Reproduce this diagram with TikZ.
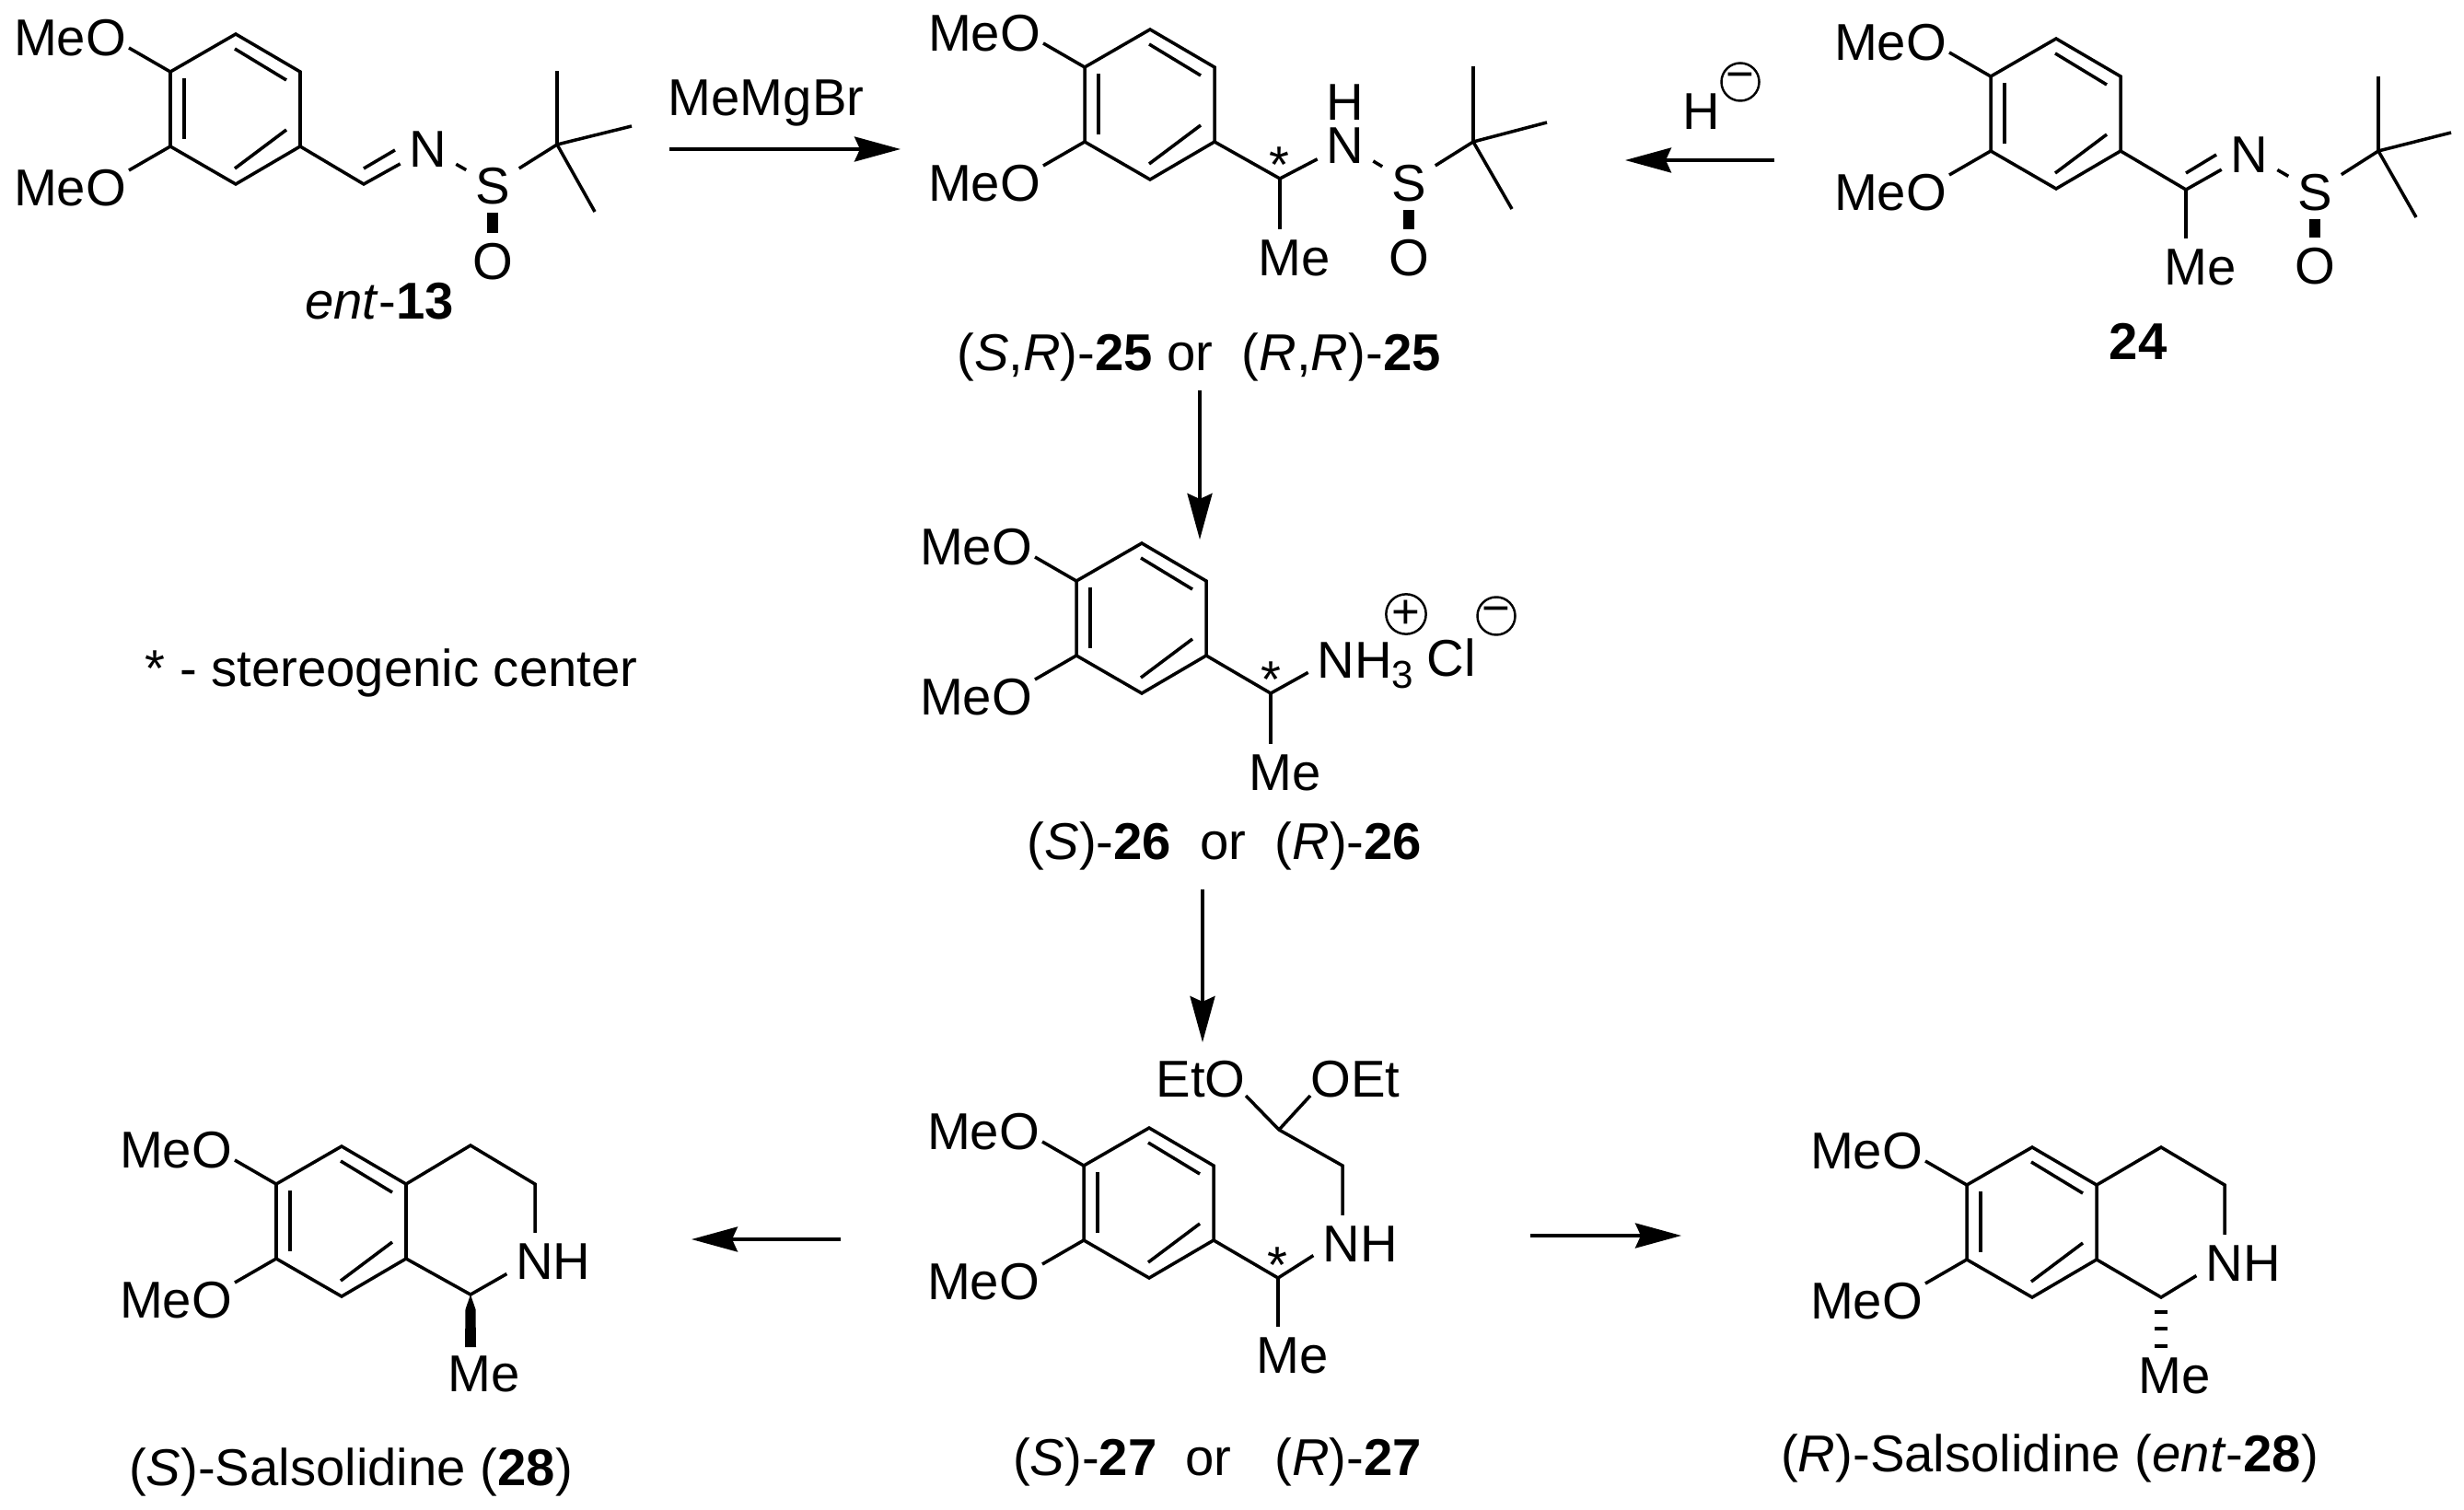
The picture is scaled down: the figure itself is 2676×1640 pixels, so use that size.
\documentclass[tikz,border=0pt]{standalone}
\usepackage{fontspec}
\setmainfont{Liberation Sans}
\usetikzlibrary{arrows.meta}
\tikzset{
  bond/.style={line width=1pt},
  rxnarrow/.style={line width=1pt, -{Stealth[length=5mm, width=2.7mm, inset=0.6mm]}},
  atom/.style={font=\fontsize{16}{19}\selectfont, inner sep=0pt, outer sep=0.1cm, text height=0.4cm, text depth=0pt},
  lbl/.style={font=\fontsize{16}{19}\selectfont, inner sep=0pt, anchor=base},
  chargecirc/.style={draw, circle, line width=0.7pt, minimum size=0.41cm, inner sep=0pt, font=\fontsize{15}{18}\selectfont},
  dimeoring/.pic={
    \coordinate (-ul) at (0,0);
    \coordinate (-top) at (71,-41);
    \coordinate (-ur) at (141,0);
    \coordinate (-lr) at (141,81);
    \coordinate (-bot) at (71,122);
    \coordinate (-ll) at (0,81);
    \coordinate (-oa) at (-45,-26);
    \coordinate (-ob) at (-45,107);
    \node[atom] (-mea) at (-109,-38) {MeO};
    \node[atom] (-meb) at (-109,125) {MeO};
    \draw[bond] (-ul) -- (-top) -- (-ur) -- (-lr) -- (-bot) -- (-ll) -- cycle;
    \draw[bond] (15,7) -- (15,73);
    \draw[bond] (70,-25) -- (126,9);
    \draw[bond] (70,105) -- (126,63);
    \draw[bond] (-ul) -- (-oa);
    \draw[bond] (-ll) -- (-ob);
  }
}
\begin{document}
\begin{tikzpicture}[x=0.01cm, y=-0.01cm]
  \useasboundingbox (0,0) rectangle (2676,1640);

  \pic (ringa) at (185,78) {dimeoring};
  \coordinate (cha) at (395,200);
  \coordinate (ima) at (395,183);
  \coordinate (imb) at (429,163);
  \coordinate (tba) at (605,157);
  \coordinate (tbaa) at (605,77);
  \coordinate (tbab) at (686,137);
  \coordinate (tbac) at (646,230);
  \node[atom] (na) at (465,161) {N};
  \node[atom] (sa) at (535,201) {S};
  \node[atom] (oa) at (535,283) {O};
  \draw[bond] (ringa-lr) -- (cha) -- (na);
  \draw[bond] (ima) -- (imb);
  \draw[bond] (na) -- (sa);
  \draw[bond] (sa) -- (tba);
  \draw[bond] (tba) -- (tbaa);
  \draw[bond] (tba) -- (tbab);
  \draw[bond] (tba) -- (tbac);
  \draw[line width=0.12cm] (sa) -- (oa);
  \node[lbl] (lblent) at (412,347) {\textit{ent}-\textbf{13}};

  \pic (ringb) at (1178,73) {dimeoring};
  \coordinate (chb) at (1390,194);
  \coordinate (tbb) at (1600,154);
  \coordinate (tbba) at (1600,72);
  \coordinate (tbbb) at (1680,133);
  \coordinate (tbbc) at (1642,227);
  \node[atom] (nb) at (1461,157) {N};
  \node[atom] (hb) at (1461,110) {H};
  \node[atom] (sb) at (1530,198) {S};
  \node[atom] (ob) at (1530,279) {O};
  \node[atom] (meb) at (1406,279) {Me};
  \node[lbl] (starb) at (1389,199) {*};
  \draw[bond] (ringb-lr) -- (chb) -- (nb);
  \draw[bond] (chb) -- (chb |- meb.north);
  \draw[bond] (nb) -- (sb);
  \draw[bond] (sb) -- (tbb);
  \draw[bond] (tbb) -- (tbba);
  \draw[bond] (tbb) -- (tbbb);
  \draw[bond] (tbb) -- (tbbc);
  \draw[line width=0.12cm] (sb) -- (ob);
  \node[lbl] (lblb) at (1302,403) {(\textit{S},\textit{R})-\textbf{25} or~~(\textit{R},\textit{R})-\textbf{25}};

  \pic (ringc) at (2162,83) {dimeoring};
  \coordinate (chc) at (2374,206);
  \coordinate (imc) at (2374,188);
  \coordinate (imd) at (2407,168);
  \coordinate (tbc) at (2583,164);
  \coordinate (tbca) at (2583,83);
  \coordinate (tbcb) at (2662,144);
  \coordinate (tbcc) at (2624,236);
  \node[atom] (nc) at (2443,167) {N};
  \node[atom] (sc) at (2514,208) {S};
  \node[atom] (oc) at (2514,288) {O};
  \node[atom] (mec) at (2390,289) {Me};
  \draw[bond] (ringc-lr) -- (chc) -- (nc);
  \draw[bond] (imc) -- (imd);
  \draw[bond] (chc) -- (chc |- mec.north);
  \draw[bond] (nc) -- (sc);
  \draw[bond] (sc) -- (tbc);
  \draw[bond] (tbc) -- (tbca);
  \draw[bond] (tbc) -- (tbcb);
  \draw[bond] (tbc) -- (tbcc);
  \draw[line width=0.12cm] (sc) -- (oc);
  \node[lbl] (lblc) at (2322,391) {\textbf{24}};

  \pic (ringd) at (1169,631) {dimeoring};
  \coordinate (chd) at (1380,753);
  \node[atom] (nhd) at (1483,716) {NH\raisebox{-3.4pt}{\fontsize{12}{12}\selectfont 3}};
  \node[atom] (cld) at (1576,714) {Cl};
  \node[atom] (med) at (1396,838) {Me};
  \node[lbl] (stard) at (1380,758) {*};
  \node[chargecirc] (plusd) at (1527,667) {+};
  \node[chargecirc] (minusd) at (1625,669) {−};
  \draw[bond] (ringd-lr) -- (chd) -- (nhd.193);
  \draw[bond] (chd) -- (chd |- med.north);
  \node[lbl] (lbld) at (1330,933) {(\textit{S})-\textbf{26}~~or~~(\textit{R})-\textbf{26}};

  \pic (ringe) at (1177,1266) {dimeoring};
  \coordinate (che) at (1388,1388);
  \coordinate (ace) at (1389,1227);
  \coordinate (cte) at (1458,1266);
  \coordinate (oee) at (1353,1190);
  \coordinate (oef) at (1423,1190);
  \node[atom] (nhe) at (1477,1350) {NH};
  \node[atom] (mee) at (1404,1471) {Me};
  \node[atom] (etoe) at (1304,1171) {EtO};
  \node[atom] (oete) at (1472,1171) {OEt};
  \node[lbl] (stare) at (1387,1393) {*};
  \draw[bond] (ringe-lr) -- (che) -- (nhe.195);
  \draw[bond] (che) -- (che |- mee.north);
  \draw[bond] (cte |- nhe.north) -- (cte) -- (ace) -- (oee);
  \draw[bond] (ace) -- (oef);
  \node[lbl] (lble) at (1322,1602) {(\textit{S})-\textbf{27}~~or~~~(\textit{R})-\textbf{27}};

  \pic (ringf) at (300,1286) {dimeoring};
  \coordinate (cfa) at (511,1244);
  \coordinate (cfb) at (581,1286);
  \coordinate (cfc) at (511,1406);
  \coordinate (wga) at (505,1463);
  \coordinate (wgb) at (517,1463);
  \coordinate (wgc) at (505.5,1422);
  \coordinate (wgd) at (516.5,1422);
  \node[atom] (nhf) at (601,1369) {NH};
  \node[atom] (mef) at (526,1491) {Me};
  \draw[bond] (ringf-ur) -- (cfa) -- (cfb) -- (cfb |- nhf.north);
  \draw[bond] (ringf-lr) -- (cfc) -- (nhf.196);
  \fill (cfc) -- (wgc) -- (wga) -- (wgb) -- (wgd) -- cycle;
  \node[lbl] (lblf) at (381,1613) {(\textit{S})-Salsolidine (\textbf{28})};

  \pic (ringg) at (2136,1287) {dimeoring};
  \coordinate (cga) at (2347,1246);
  \coordinate (cgb) at (2416,1287);
  \coordinate (cgc) at (2347,1409);
  \node[atom] (nhg) at (2436,1371) {NH};
  \node[atom] (meg) at (2362,1493) {Me};
  \draw[bond] (ringg-ur) -- (cga) -- (cgb) -- (cgb |- nhg.north);
  \draw[bond] (ringg-lr) -- (cgc) -- (nhg.196);
  \draw[line width=0.045cm] (2340,1425) -- (2354,1425);
  \draw[line width=0.045cm] (2340,1443) -- (2354,1443);
  \draw[line width=0.045cm] (2340,1462) -- (2354,1462);
  \node[lbl] (lblg) at (2226,1598) {(\textit{R})-Salsolidine (\textit{ent}-\textbf{28})};

  \coordinate (arra) at (727,162);
  \coordinate (arrb) at (978,162);
  \coordinate (arrc) at (1927,174);
  \coordinate (arrd) at (1765,174);
  \coordinate (arre) at (1303,424);
  \coordinate (arrf) at (1303,586);
  \coordinate (arrg) at (1306,966);
  \coordinate (arrh) at (1306,1132);
  \coordinate (arri) at (913,1346);
  \coordinate (arrj) at (751,1346);
  \coordinate (arrk) at (1662,1342);
  \coordinate (arrl) at (1826,1342);
  \draw[rxnarrow] (arra) -- (arrb);
  \draw[rxnarrow] (arrc) -- (arrd);
  \draw[rxnarrow] (arre) -- (arrf);
  \draw[rxnarrow] (arrg) -- (arrh);
  \draw[rxnarrow] (arri) -- (arrj);
  \draw[rxnarrow] (arrk) -- (arrl);

  \node[lbl] (reagent) at (832,126) {MeMgBr};
  \node[atom] (hyd) at (1848,120) {H};
  \node[chargecirc] (minush) at (1890,89) {−};
  \node[lbl] (legend) at (425,745) {* - stereogenic center};
\end{tikzpicture}
\end{document}
